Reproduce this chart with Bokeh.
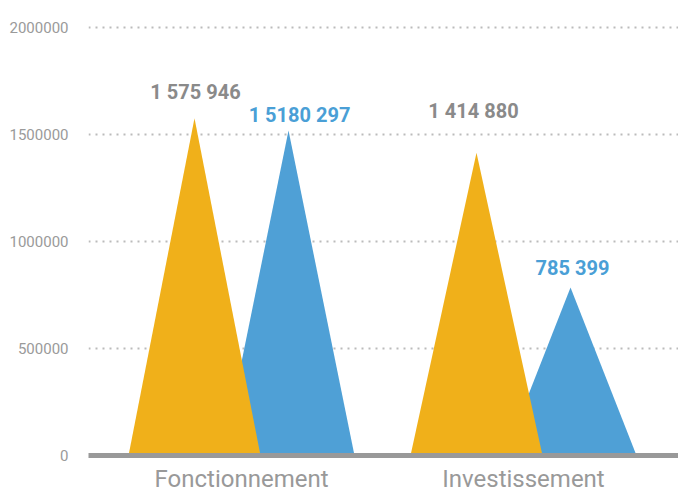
from bokeh.plotting import figure
from bokeh.models import Range1d, FixedTicker, ColumnDataSource
from bokeh.core.properties import value
from bokeh.embed import file_html
from bokeh.resources import INLINE

categories = ["Fonctionnement", "Investissement"]
series_a = [1575946, 1414880]          # yellow
series_b = [1518297, 785399]           # blue
labels_a = ["1 575 946", "1 414 880"]
labels_b = ["1 5180 297", "785 399"]
y_ticks = [0, 500000, 1000000, 1500000, 2000000]
y_tick_labels = ["0", "500000", "1000000", "1500000", "2000000"]

# label placement (style, screen px)
label_dx_a = [1, -3]
label_dy_a = [-26, -42]
label_dx_b = [11, 2]
label_dy_b = [-16, -19]

YELLOW = "#F0B01A"
BLUE = "#4FA0D6"
OFFSET = 0.1667
HALF = 0.234

p = figure(width=678, height=495, output_backend="svg", toolbar_location=None,
           x_range=Range1d(-0.5426, 1.5496), y_range=Range1d(0, 2126000),
           min_border_left=88, min_border_right=0, min_border_top=0, min_border_bottom=40)
p.outline_line_color = None
p.background_fill_color = "white"
p.border_fill_color = "white"

def tri(center, val):
    return [center - HALF, center, center + HALF], [0, val, 0]

xs_b, ys_b, xs_a, ys_a = [], [], [], []
for i, (a, b) in enumerate(zip(series_a, series_b)):
    x, y = tri(i + OFFSET, b); xs_b.append(x); ys_b.append(y)
    x, y = tri(i - OFFSET, a); xs_a.append(x); ys_a.append(y)

p.patches(xs_b, ys_b, fill_color=BLUE, line_color=None)
p.patches(xs_a, ys_a, fill_color=YELLOW, line_color=None)

src_a = ColumnDataSource(dict(x=[i - OFFSET for i in range(len(categories))], y=series_a, t=labels_a,
                              dx=label_dx_a, dy=label_dy_a))
src_b = ColumnDataSource(dict(x=[i + OFFSET for i in range(len(categories))], y=series_b, t=labels_b,
                              dx=label_dx_b, dy=label_dy_b))
p.text(x="x", y="y", text="t", source=src_a, text_align="center", text_baseline="alphabetic",
       x_offset="dx", y_offset="dy", text_font=value("Roboto"), text_font_style="bold",
       text_font_size="20px", text_color="#8a8a8a")
p.text(x="x", y="y", text="t", source=src_b, text_align="center", text_baseline="alphabetic",
       x_offset="dx", y_offset="dy", text_font=value("Roboto"), text_font_style="bold",
       text_font_size="20px", text_color="#4A9FD6")

# axes
p.xaxis.ticker = FixedTicker(ticks=list(range(len(categories))))
p.xaxis.major_label_overrides = {i: c for i, c in enumerate(categories)}
p.xaxis.axis_line_width = 5
p.xaxis.axis_line_color = "#999999"
p.xaxis.major_tick_line_color = None
p.xaxis.minor_tick_line_color = None
p.xaxis.major_label_text_font = "Roboto"
p.xaxis.major_label_text_font_size = "24px"
p.xaxis.major_label_text_color = "#999999"
p.xaxis.major_label_standoff = 3

p.yaxis.ticker = FixedTicker(ticks=y_ticks)
p.yaxis.major_label_overrides = {t: l for t, l in zip(y_ticks, y_tick_labels)}
p.yaxis.axis_line_color = None
p.yaxis.major_tick_line_color = None
p.yaxis.minor_tick_line_color = None
p.yaxis.major_label_text_font = "Roboto"
p.yaxis.major_label_text_font_size = "15px"
p.yaxis.major_label_text_color = "#9a9a9a"
p.yaxis.major_label_standoff = 14

p.xgrid.grid_line_color = None
p.ygrid.grid_line_color = "#bbbbbb"
p.ygrid.grid_line_width = 2
p.ygrid.grid_line_dash = "2 5"

open("out.html", "w").write(file_html(p, INLINE))
